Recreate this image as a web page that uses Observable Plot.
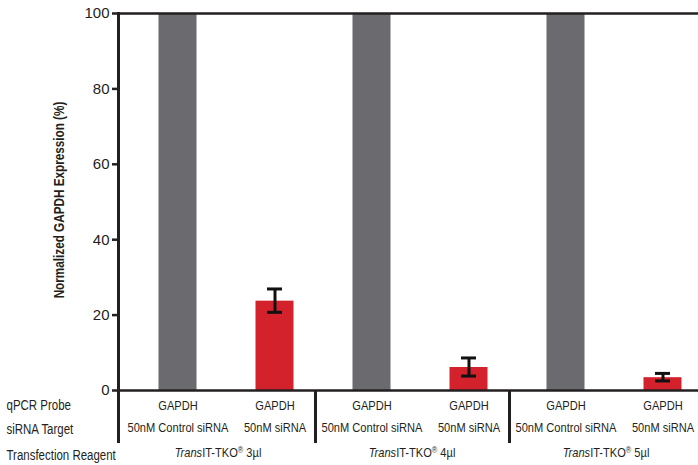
<!DOCTYPE html>
<html><head><meta charset="utf-8">
<script src="https://cdn.jsdelivr.net/npm/d3@7"></script>
<script src="https://cdn.jsdelivr.net/npm/@observablehq/plot@0.6"></script>
<style>body{margin:0;background:#fff;overflow:hidden}</style>
</head><body><div id="chart"></div>
<script>
const categories = ["3-ctrl", "3-si", "4-ctrl", "4-si", "5-ctrl", "5-si"];
const kinds = ["control", "sirna", "control", "sirna", "control", "sirna"];
const probes = ["GAPDH", "GAPDH", "GAPDH", "GAPDH", "GAPDH", "GAPDH"];
const targets = ["50nM Control siRNA", "50nM siRNA", "50nM Control siRNA", "50nM siRNA", "50nM Control siRNA", "50nM siRNA"];
const values = [100, 23.7, 100, 6.1, 100, 3.4];
const errors = [null, 3.1, null, 2.4, null, 1.0];
const groupFirst = ["3-ctrl", "4-ctrl", "5-ctrl"];
const groupLabels = ["TransIT-TKO® 3µl", "TransIT-TKO® 4µl", "TransIT-TKO® 5µl"];
const rowLabels = ["qPCR Probe", "siRNA Target", "Transfection Reagent"];
const yTicks = [0, 20, 40, 60, 80, 100];
const kindColors = ["#6b6b6f", "#d3222c"];

const data = categories.map((c, i) => ({cat: c, kind: kinds[i], probe: probes[i], target: targets[i], value: values[i], err: errors[i]}));
const errData = data.filter(d => d.err != null);
const groups = groupFirst.map((c, i) => ({cat: c, label: groupLabels[i]}));

const W = 698, H = 465, ML = 118, MT = 13, MB = 75;
const xRange = [129, 711];
const step = (xRange[1] - xRange[0]) / categories.length;
const firstCenter = xRange[0] + step / 2;
const ink = "#231f20";
const font = "'Liberation Sans', Arial, sans-serif";

const plot = Plot.plot({
  width: W, height: H,
  marginLeft: ML, marginRight: 0, marginTop: MT, marginBottom: MB,
  style: {fontFamily: font, color: ink, background: "#fff"},
  x: {type: "band", domain: categories, range: xRange, padding: 0, axis: null},
  y: {domain: [0, 100], axis: null},
  color: {domain: ["control", "sirna"], range: kindColors},
  marks: [
    Plot.barY(data, {x: "cat", y: "value", fill: "kind", insetLeft: 29.5, insetRight: 29.5}),
    Plot.ruleX(errData, {x: "cat", y1: d => d.value - d.err, y2: d => d.value + d.err, stroke: "#111", strokeWidth: 3}),
    Plot.barY(errData, {x: "cat", y1: d => d.value + d.err, y2: d => d.value + d.err, fill: "#111", insetLeft: 41, insetRight: 41, insetTop: -1.5, insetBottom: -1.5}),
    Plot.barY(errData, {x: "cat", y1: d => d.value - d.err, y2: d => d.value - d.err, fill: "#111", insetLeft: 41, insetRight: 41, insetTop: -1.5, insetBottom: -1.5}),
    Plot.ruleY([0], {stroke: ink, strokeWidth: 2.5}),
    Plot.ruleY([100], {stroke: ink, strokeWidth: 2.5}),
    Plot.ruleX([categories[0]], {dx: ML - firstCenter, stroke: ink, strokeWidth: 3, insetTop: -1, insetBottom: -53}),
    Plot.ruleX(groupFirst.slice(1), {dx: -step / 2 - 8, stroke: ink, strokeWidth: 3, insetTop: H - MB - MT, insetBottom: -53}),
    Plot.axisY({ticks: yTicks, tickSize: 6, tickPadding: 3, fontSize: 15, stroke: ink, strokeWidth: 2.5, fill: ink, label: null}),
    Plot.text(["Normalized GAPDH Expression (%)"], {frameAnchor: "left", dx: -59, dy: -2, rotate: -90, textAnchor: "middle", lineAnchor: "middle", fontWeight: "bold", fontSize: 14.3, fill: ink}),
    Plot.text(data, {x: "cat", text: "probe", frameAnchor: "bottom", lineAnchor: "middle", dy: 15, fontSize: 13.5, fill: ink}),
    Plot.text(data, {x: "cat", text: "target", frameAnchor: "bottom", lineAnchor: "middle", dy: 37, fontSize: 13.5, fill: ink}),
    Plot.text(groups, {x: "cat", text: "label", frameAnchor: "bottom", lineAnchor: "middle", dx: 40, dy: 62, fontSize: 13.5, fill: ink, className: "grp"}),
    Plot.text([rowLabels[0]], {frameAnchor: "bottom-left", lineAnchor: "middle", dx: 6 - ML, dy: 15, textAnchor: "start", fontSize: 14, fill: ink}),
    Plot.text([rowLabels[1]], {frameAnchor: "bottom-left", lineAnchor: "middle", dx: 6 - ML, dy: 39, textAnchor: "start", fontSize: 14, fill: ink}),
    Plot.text([rowLabels[2]], {frameAnchor: "bottom-left", lineAnchor: "middle", dx: 6 - ML, dy: 65, textAnchor: "start", fontSize: 14, fill: ink})
  ]
});

d3.select(plot).selectAll(".grp text").each(function () {
  const t = this.textContent;
  const m = t.match(/^(Trans)(IT-TKO)(®)(.*)$/);
  if (!m) return;
  const sel = d3.select(this);
  sel.text(null);
  sel.append("tspan").attr("font-style", "italic").text(m[1]);
  sel.append("tspan").text(m[2]);
  sel.append("tspan").attr("font-size", "9").attr("dy", "-4").text(m[3]);
  sel.append("tspan").attr("dy", "4").text(m[4]);
});

document.getElementById("chart").append(plot);

// condense the lettering to resemble the narrow typeface of the original
d3.select(plot).selectAll("text").each(function () {
  const g = this.closest("g");
  const label = g ? (g.getAttribute("aria-label") || "") : "";
  if (label.includes("tick label")) return;
  const len = this.getComputedTextLength();
  if (len > 0) {
    this.setAttribute("textLength", (len * 0.82).toFixed(1));
    this.setAttribute("lengthAdjust", "spacingAndGlyphs");
  }
});
</script>
</body></html>
